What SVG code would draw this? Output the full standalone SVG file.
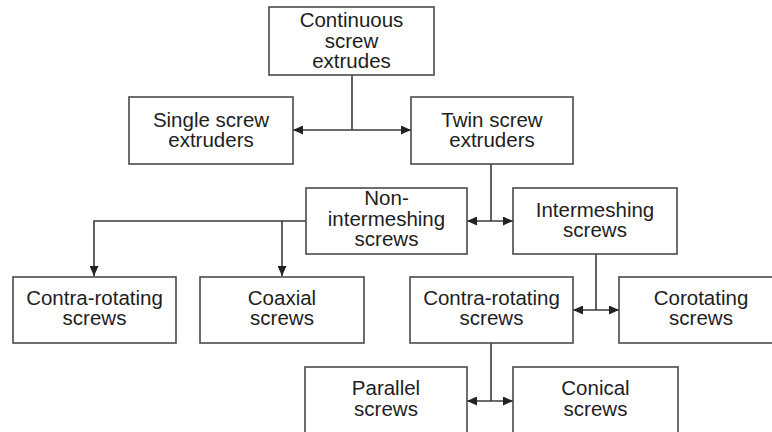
<svg xmlns="http://www.w3.org/2000/svg" width="772" height="432" viewBox="0 0 772 432">
  <style>
    .box { fill: #ffffff; stroke: #4a4a4a; stroke-width: 1.6; }
    .lbl { font-family: "Liberation Sans", Arial, sans-serif; font-size: 20.5px; fill: #1e1e1e; text-anchor: middle; }
    .wire { fill: none; stroke: #3a3a3a; stroke-width: 1.6; }
  </style>
  <defs>
    <marker id="tip" viewBox="0 0 10 9" refX="10" refY="4.5" markerWidth="10" markerHeight="9" markerUnits="userSpaceOnUse" orient="auto-start-reverse">
      <path d="M0,0 L10,4.5 L0,9 Z" fill="#222222"/>
    </marker>
  </defs>
  <rect width="772" height="432" fill="#ffffff"/>

  <!-- connectors -->
  <g id="connectors">
    <path class="wire" d="M352,75 V130"/>
    <path class="wire" d="M293,130 H411" marker-start="url(#tip)" marker-end="url(#tip)"/>
    <path class="wire" d="M491,164 V221"/>
    <path class="wire" d="M467,221 H513" marker-start="url(#tip)" marker-end="url(#tip)"/>
    <path class="wire" d="M306,221 H94 V276" marker-end="url(#tip)"/>
    <path class="wire" d="M282,221 V276" marker-end="url(#tip)"/>
    <path class="wire" d="M596,254 V310"/>
    <path class="wire" d="M573,310 H619" marker-start="url(#tip)" marker-end="url(#tip)"/>
    <path class="wire" d="M491,343 V401"/>
    <path class="wire" d="M467,401 H513" marker-start="url(#tip)" marker-end="url(#tip)"/>
  </g>

  <g id="continuous">
    <rect class="box" x="269" y="7" width="165" height="68"/>
    <text class="lbl" x="351.5" y="27">Continuous</text>
    <text class="lbl" x="351.5" y="48">screw</text>
    <text class="lbl" x="351.5" y="68">extrudes</text>
  </g>

  <g id="single">
    <rect class="box" x="129" y="97" width="164" height="67"/>
    <text class="lbl" x="211" y="127">Single screw</text>
    <text class="lbl" x="211" y="147">extruders</text>
  </g>

  <g id="twin">
    <rect class="box" x="411" y="97" width="162" height="67"/>
    <text class="lbl" x="492" y="127">Twin screw</text>
    <text class="lbl" x="492" y="147">extruders</text>
  </g>

  <g id="non-intermeshing">
    <rect class="box" x="306" y="188" width="161" height="66"/>
    <text class="lbl" x="386.5" y="205">Non-</text>
    <text class="lbl" x="386.5" y="226">intermeshing</text>
    <text class="lbl" x="386.5" y="246">screws</text>
  </g>

  <g id="intermeshing">
    <rect class="box" x="513" y="188" width="164" height="66"/>
    <text class="lbl" x="595" y="217">Intermeshing</text>
    <text class="lbl" x="595" y="237">screws</text>
  </g>

  <g id="contra-left">
    <rect class="box" x="13" y="277" width="163" height="66"/>
    <text class="lbl" x="94.5" y="305">Contra-rotating</text>
    <text class="lbl" x="94.5" y="325">screws</text>
  </g>

  <g id="coaxial">
    <rect class="box" x="200" y="277" width="164" height="66"/>
    <text class="lbl" x="282" y="305">Coaxial</text>
    <text class="lbl" x="282" y="325">screws</text>
  </g>

  <g id="contra-mid">
    <rect class="box" x="410" y="277" width="163" height="66"/>
    <text class="lbl" x="491.5" y="305">Contra-rotating</text>
    <text class="lbl" x="491.5" y="325">screws</text>
  </g>

  <g id="corotating">
    <rect class="box" x="619" y="277" width="160" height="66"/>
    <text class="lbl" x="701" y="305">Corotating</text>
    <text class="lbl" x="701" y="325">screws</text>
  </g>

  <g id="parallel">
    <rect class="box" x="305" y="367" width="162" height="70"/>
    <text class="lbl" x="386" y="395">Parallel</text>
    <text class="lbl" x="386" y="416">screws</text>
  </g>

  <g id="conical">
    <rect class="box" x="513" y="367" width="165" height="70"/>
    <text class="lbl" x="595.5" y="395">Conical</text>
    <text class="lbl" x="595.5" y="416">screws</text>
  </g>
</svg>
